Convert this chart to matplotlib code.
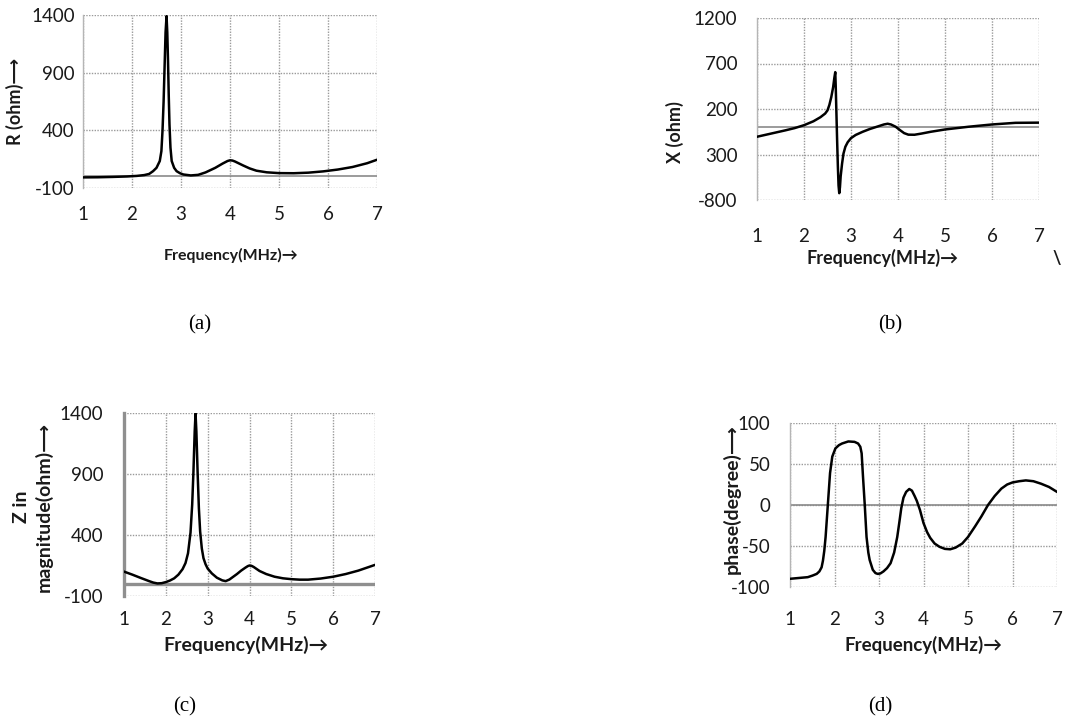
import matplotlib
matplotlib.use("Agg")
import matplotlib.pyplot as plt

W, H = 1066, 723

# ---------------- data ----------------
freq_ticks = [1, 2, 3, 4, 5, 6, 7]

# (a) R (ohm)
r_freq = [1.0, 1.3, 1.6, 1.9, 2.1, 2.25, 2.35, 2.43, 2.5, 2.567, 2.6, 2.623, 2.645,
          2.665, 2.685, 2.705, 2.72, 2.735, 2.75, 2.765, 2.785, 2.81, 2.86, 2.91,
          2.98, 3.05, 3.2, 3.35, 3.5, 3.7, 3.85, 3.95, 4.0, 4.05, 4.1, 4.27, 4.4,
          4.54, 4.75, 5.0, 5.3, 5.6, 5.9, 6.2, 6.5, 6.8, 7.0]
r_vals = [-8, -7, -4, 0, 5, 12, 22, 46, 75, 134, 220, 400, 650,
          950, 1250, 1390, 1250, 1000, 700, 450, 250, 134, 75, 46,
          28, 17, 9, 14, 35, 75, 112, 134, 140, 138, 130, 95, 70,
          50, 36, 29, 28, 33, 44, 60, 82, 115, 145]
r_yticks = [-100, 400, 900, 1400]
r_yticklabels = ["-100", "400", "900", "1400"]

# (b) X (ohm)
x_freq = [1.0, 1.3, 1.6, 1.8, 2.0, 2.2, 2.35, 2.45, 2.5, 2.54, 2.58, 2.62, 2.645,
          2.665, 2.675, 2.69, 2.705, 2.72, 2.735, 2.75, 2.765, 2.78, 2.81, 2.84,
          2.88, 2.93, 3.0, 3.1, 3.25, 3.4, 3.55, 3.7, 3.78, 3.85, 3.95, 4.05,
          4.13, 4.22, 4.35, 4.5, 4.7, 5.0, 5.5, 6.0, 6.5, 7.0]
x_vals = [-105, -70, -35, -10, 22, 65, 110, 150, 185, 245, 330, 440, 540,
          605, 450, 150, -150, -420, -640, -725, -660, -540, -400, -290,
          -215, -165, -120, -85, -50, -20, 5, 30, 38, 30, 5, -35,
          -65, -82, -83, -70, -50, -25, 5, 30, 48, 50]
x_yticks = [-800, -300, 200, 700, 1200]
x_yticklabels = ["-800", "300", "200", "700", "1200"]

# (c) |Zin| (ohm)
z_freq = [1.0, 1.2, 1.4, 1.6, 1.7, 1.8, 1.9, 2.0, 2.1, 2.2, 2.3, 2.4, 2.47, 2.53,
          2.59, 2.63, 2.66, 2.69, 2.71, 2.73, 2.76, 2.79, 2.82, 2.86, 2.9, 2.95,
          3.0, 3.1, 3.22, 3.35, 3.43, 3.52, 3.6, 3.7, 3.8, 3.9, 3.96, 4.0, 4.05,
          4.1, 4.24, 4.4, 4.6, 4.8, 5.0, 5.2, 5.4, 5.7, 6.0, 6.3, 6.6, 7.0]
z_vals = [100, 75, 48, 22, 10, 3, 5, 14, 27, 45, 75, 120, 170, 250,
          420, 650, 920, 1250, 1395, 1250, 910, 620, 430, 290, 210, 160,
          125, 85, 50, 28, 22, 35, 55, 80, 108, 132, 145, 150, 147,
          138, 105, 80, 58, 45, 38, 34, 34, 43, 58, 80, 108, 155]
z_yticks = [-100, 400, 900, 1400]
z_yticklabels = ["-100", "400", "900", "1400"]

# (d) phase (degree)
p_freq = [1.0, 1.2, 1.4, 1.51, 1.6, 1.66, 1.71, 1.74, 1.77, 1.8, 1.85, 1.9, 1.95,
          2.02, 2.1, 2.17, 2.31, 2.45, 2.53, 2.58, 2.61, 2.64, 2.68, 2.72, 2.76,
          2.79, 2.86, 2.92, 2.97, 3.03, 3.1, 3.18, 3.26, 3.34, 3.41, 3.46, 3.5,
          3.55, 3.61, 3.68, 3.74, 3.8, 3.85, 3.92, 4.0, 4.08, 4.15, 4.25, 4.36,
          4.48, 4.6, 4.72, 4.87, 5.0, 5.16, 5.3, 5.45, 5.6, 5.75, 5.88, 6.0,
          6.15, 6.3, 6.47, 6.64, 6.82, 7.0]
p_vals = [-90, -89, -88, -86, -84, -81, -76, -68, -56, -39, 0, 39, 59,
          69, 73, 75, 77.5, 77, 75, 71, 63, 35, 0, -39, -58,
          -67, -79, -83, -84, -83.5, -81, -77, -71, -58, -39, -20, -4,
          9, 16, 19.5, 17.5, 11, 5, -6, -22, -33, -40, -47, -51,
          -53.5, -54, -52, -47, -39, -26, -14, 0, 11, 20, 25, 27.5,
          29, 30, 29, 26, 22, 16]
p_yticks = [-100, -50, 0, 50, 100]
p_yticklabels = ["-100", "-50", "0", "50", "100"]

# ---------------- styling ----------------
SANS = ["Lato", "DejaVu Sans"]
SERIF = ["Liberation Serif", "DejaVu Serif"]
TXT = "#1a1a1a"

fig = plt.figure(figsize=(W / 100, H / 100), dpi=100)
fig.patch.set_facecolor("white")


def add_axes(l, r, t, b):
    return fig.add_axes([l / W, 1 - b / H, (r - l) / W, (b - t) / H])


def P(x, y):
    return x / W, 1 - y / H


def style(ax, yticks, yticklabels, ylim, ypad, xpad, zero_lw=1.2, left_lw=1.0,
          left_col="#b5b5b5", zero_col="#8a8a8a"):
    ax.set_xlim(1, 7)
    ax.set_ylim(*ylim)
    ax.set_xticks(freq_ticks)
    ax.set_xticklabels([str(t) for t in freq_ticks])
    ax.set_yticks(yticks)
    ax.set_yticklabels(yticklabels)
    ax.grid(True, color="#9a9a9a", linestyle=(0, (1, 1)), linewidth=1.0)
    for s in ["top", "right", "bottom"]:
        ax.spines[s].set_visible(False)
    ax.spines["left"].set_color(left_col)
    ax.spines["left"].set_linewidth(left_lw)
    ax.tick_params(axis="both", length=0, labelsize=13.5, colors=TXT)
    ax.tick_params(axis="y", pad=ypad)
    ax.tick_params(axis="x", pad=xpad)
    for lab in ax.get_xticklabels() + ax.get_yticklabels():
        lab.set_family(SANS)
    ax.axhline(0, color=zero_col, lw=zero_lw, zorder=2)
    ax.set_axisbelow(True)


LW = 1.8

# (a)
axa = add_axes(83, 377, 15, 188)
axa.plot(r_freq, r_vals, color="black", lw=LW, zorder=3, solid_joinstyle="round")
style(axa, r_yticks, r_yticklabels, (-100, 1400), ypad=6, xpad=13)

# (b)
axb = add_axes(757, 1039, 18, 200)
axb.plot(x_freq, x_vals, color="black", lw=LW, zorder=3, solid_joinstyle="round")
style(axb, x_yticks, x_yticklabels, (-800, 1200), ypad=14, xpad=20)

# (c)
axc = add_axes(124, 375, 413, 596)
axc.plot(z_freq, z_vals, color="black", lw=LW, zorder=3, solid_joinstyle="round")
style(axc, z_yticks, z_yticklabels, (-100, 1400), ypad=15, xpad=11,
      zero_lw=2.4, left_lw=2.4, left_col="#8f8f8f", zero_col="#8f8f8f")

# (d)
axd = add_axes(790, 1057, 423, 587)
axd.plot(p_freq, p_vals, color="black", lw=LW, zorder=3, solid_joinstyle="round")
style(axd, p_yticks, p_yticklabels, (-100, 100), ypad=14, xpad=17)

# axis labels
fig.text(*P(15, 101), "R (ohm)\u27f6", rotation=90, ha="center", va="center",
         fontsize=13, fontweight="bold", family=SANS, color=TXT)
fig.text(*P(231, 255), "Frequency(MHz)\u2192", ha="center", va="center",
         fontsize=11.5, fontweight="bold", family=SANS, color=TXT)

fig.text(*P(675, 132), "X (ohm)", rotation=90, ha="center", va="center",
         fontsize=13, fontweight="bold", family=SANS, color=TXT)
fig.text(*P(883, 258), "Frequency(MHz)\u2192", ha="center", va="center",
         fontsize=13, fontweight="bold", family=SANS, color=TXT)
fig.text(*P(1057, 258), "\\", ha="center", va="center",
         fontsize=13, fontweight="bold", family=SANS, color=TXT)

fig.text(*P(33, 507), "Z in\nmagnitude(ohm)\u27f6", rotation=90, ha="center",
         va="center", multialignment="center", linespacing=1.35,
         fontsize=14, fontweight="bold", family=SANS, color=TXT)
fig.text(*P(246, 645), "Frequency(MHz)\u2192", ha="center", va="center",
         fontsize=14, fontweight="bold", family=SANS, color=TXT)

fig.text(*P(732, 499), "phase(degree)\u27f6", rotation=90, ha="center", va="center",
         fontsize=14, fontweight="bold", family=SANS, color=TXT)
fig.text(*P(924, 645), "Frequency(MHz)\u2192", ha="center", va="center",
         fontsize=13.5, fontweight="bold", family=SANS, color=TXT)

# captions
for (cx, cy, s) in [(200, 325, "(a)"), (890, 325, "(b)"),
                    (185, 707, "(c)"), (880, 707, "(d)")]:
    fig.text(*P(cx, cy), s, ha="center", va="center", fontsize=15,
             family=SERIF, color="black")

fig.savefig("out.png", dpi=100, facecolor="white")
